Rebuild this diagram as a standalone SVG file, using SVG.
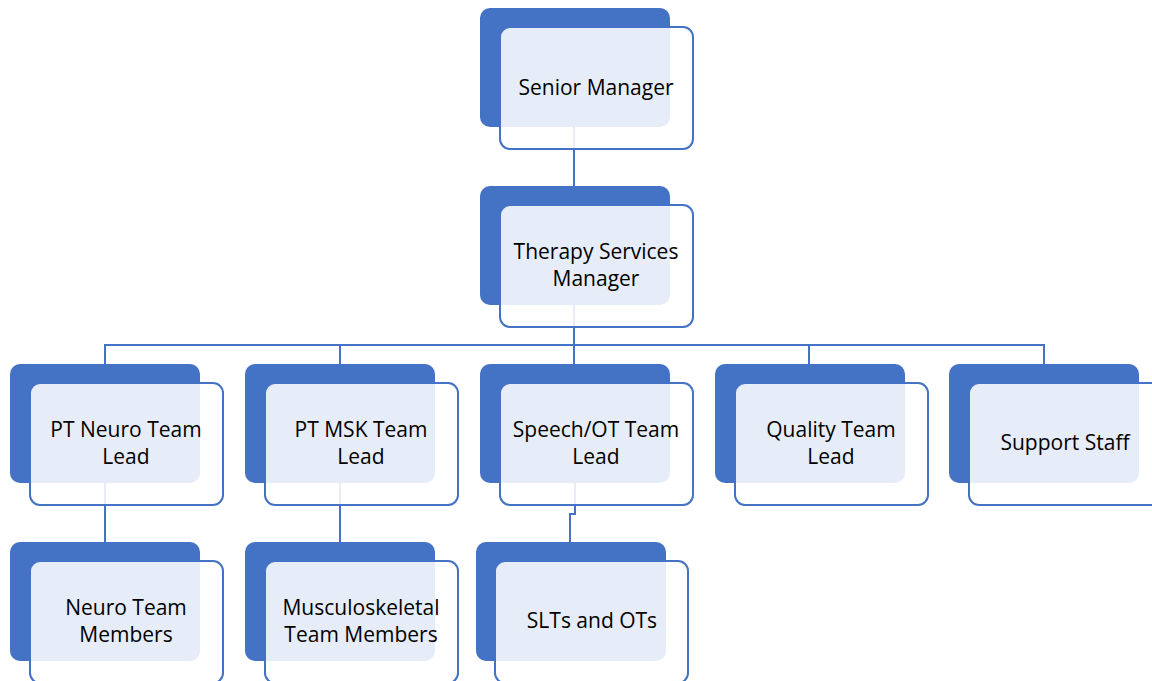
<svg xmlns="http://www.w3.org/2000/svg" width="1152" height="681" viewBox="0 0 1152 681">
<style>
.back{fill:#4472C4;}
.front{fill:#FFFFFF;fill-opacity:0.87;stroke:#4472C4;stroke-width:2;}
.conn{fill:none;stroke:#4472C4;stroke-width:2;}
text{font-family:"Open Sans","Noto Sans",sans-serif;font-size:21px;fill:#000000;text-anchor:middle;}
</style>
<g id="connectors">
<path class="conn" d="M574,127 V186"/>
<path class="conn" d="M574,305 V345 M105,364 V345 H1044 V364 M340,345 V364 M574,345 V364 M809,345 V364"/>
<path class="conn" d="M105,483 V542"/>
<path class="conn" d="M340,483 V542"/>
<path class="conn" d="M575,483 V514 H570 V542"/>
</g>
<g id="senior-manager">
<rect class="back" x="480" y="8" width="190" height="119" rx="10"/>
<rect class="front" x="500" y="27" width="193" height="122" rx="10"/>
<text x="596" y="95">Senior Manager</text>
</g>
<g id="therapy-services-manager">
<rect class="back" x="480" y="186" width="190" height="119" rx="10"/>
<rect class="front" x="500" y="205" width="193" height="122" rx="10"/>
<text x="596" y="259">Therapy Services</text>
<text x="596" y="286">Manager</text>
</g>
<g id="pt-neuro-lead">
<rect class="back" x="10" y="364" width="190" height="119" rx="10"/>
<rect class="front" x="30" y="383" width="193" height="122" rx="10"/>
<text x="126" y="437">PT Neuro Team</text>
<text x="126" y="464">Lead</text>
</g>
<g id="pt-msk-lead">
<rect class="back" x="245" y="364" width="190" height="119" rx="10"/>
<rect class="front" x="265" y="383" width="193" height="122" rx="10"/>
<text x="361" y="437">PT MSK Team</text>
<text x="361" y="464">Lead</text>
</g>
<g id="speech-ot-lead">
<rect class="back" x="480" y="364" width="190" height="119" rx="10"/>
<rect class="front" x="500" y="383" width="193" height="122" rx="10"/>
<text x="596" y="437">Speech/OT Team</text>
<text x="596" y="464">Lead</text>
</g>
<g id="quality-lead">
<rect class="back" x="715" y="364" width="190" height="119" rx="10"/>
<rect class="front" x="735" y="383" width="193" height="122" rx="10"/>
<text x="831" y="437">Quality Team</text>
<text x="831" y="464">Lead</text>
</g>
<g id="support-staff">
<rect class="back" x="949" y="364" width="190" height="119" rx="10"/>
<rect class="front" x="969" y="383" width="193" height="122" rx="10"/>
<text x="1065" y="450">Support Staff</text>
</g>
<g id="neuro-members">
<rect class="back" x="10" y="542" width="190" height="119" rx="10"/>
<rect class="front" x="30" y="561" width="193" height="122" rx="10"/>
<text x="126" y="615">Neuro Team</text>
<text x="126" y="642">Members</text>
</g>
<g id="msk-members">
<rect class="back" x="245" y="542" width="190" height="119" rx="10"/>
<rect class="front" x="265" y="561" width="193" height="122" rx="10"/>
<text x="361" y="615">Musculoskeletal</text>
<text x="361" y="642">Team Members</text>
</g>
<g id="slts-ots">
<rect class="back" x="476" y="542" width="190" height="119" rx="10"/>
<rect class="front" x="495" y="561" width="193" height="122" rx="10"/>
<text x="592" y="628">SLTs and OTs</text>
</g>
</svg>
